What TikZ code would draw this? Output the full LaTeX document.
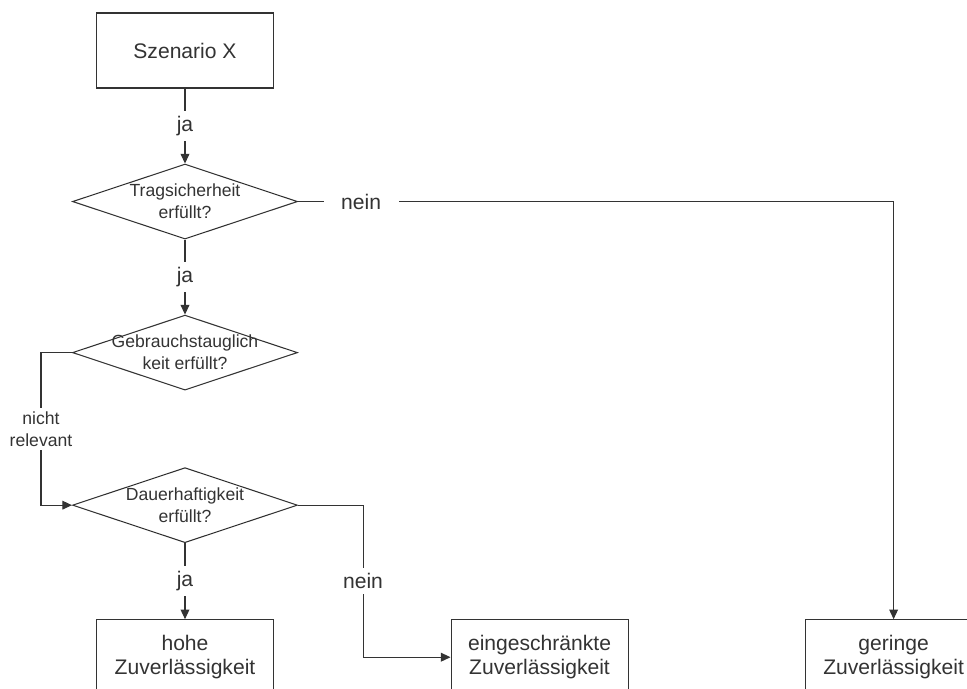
\documentclass[tikz,border=0pt]{standalone}
\usepackage{fontspec}
\setmainfont{Liberation Sans}
\usetikzlibrary{positioning,shapes.geometric,arrows.meta}
\colorlet{ink}{black!80}
\tikzset{
    box/.style={draw=ink, line width=0.6pt, minimum width=3.54cm, minimum height=1.5cm,
        align=center, text=ink, font=\fontsize{12}{13.5}\selectfont},
    dec/.style={draw=ink, line width=0.6pt, diamond, minimum width=4.5cm, minimum height=1.5cm,
        inner sep=0pt},
    qtext/.style={align=center, text=ink, font=\fontsize{10}{12.5}\selectfont},
    flow/.style={draw=ink, line width=0.6pt, -{Triangle[length=5.5pt,width=5pt]}},
    line/.style={draw=ink, line width=0.6pt},
    lbl/.style={fill=white, text=ink, font=\fontsize{12}{13.5}\selectfont, inner sep=3pt},
    smalllbl/.style={fill=white, align=center, text=ink, font=\fontsize{10}{12.5}\selectfont, inner sep=2pt}
}
\begin{document}
\begin{tikzpicture}
                    \useasboundingbox (0,0) rectangle (19.34,-13.78);
                    \clip (0,0) rectangle (19.34,-13.78);
                    \node [box] (sz) at (3.7,-1.01) {Szenario X};
                    \node [dec, below=1.5cm of sz, label={[qtext]center:{Tragsicherheit\\erfüllt?}}] (d1) {};
                    \node [dec, below=1.5cm of d1, label={[qtext]center:{Gebrauchstauglich\\keit erfüllt?}}] (d2) {};
                    \node [dec, below=1.53cm of d2, label={[qtext]center:{Dauerhaftigkeit\\erfüllt?}}] (d3) {};
                    \node [box, below=1.52cm of d3] (b1) {hohe\\Zuverlässigkeit};
                    \node [box, right=3.53cm of b1] (b2) {eingeschränkte\\Zuverlässigkeit};
                    \node [box, right=3.52cm of b2] (b3) {geringe\\Zuverlässigkeit};

                    \draw [flow] (sz) -- node [lbl] {ja} (d1);
                    \draw [flow] (d1) -- node [lbl] {ja} (d2);
                    \draw [flow] (d3) -- node [lbl] {ja} (b1);
                    \draw [flow] (d1.east) -| node [lbl, inner xsep=0.35cm, pos=0.053] {nein} (b3.north);
                    \draw [flow] (d2.west) -- ++(-0.62,0) |- node [smalllbl, pos=0.25] {nicht\\relevant} (d3.west);
                    \draw [flow] (d3.east) -- ++(1.3,0) |- node [lbl, pos=0.25] {nein} (b2.west);
                \end{tikzpicture}
\end{document}
